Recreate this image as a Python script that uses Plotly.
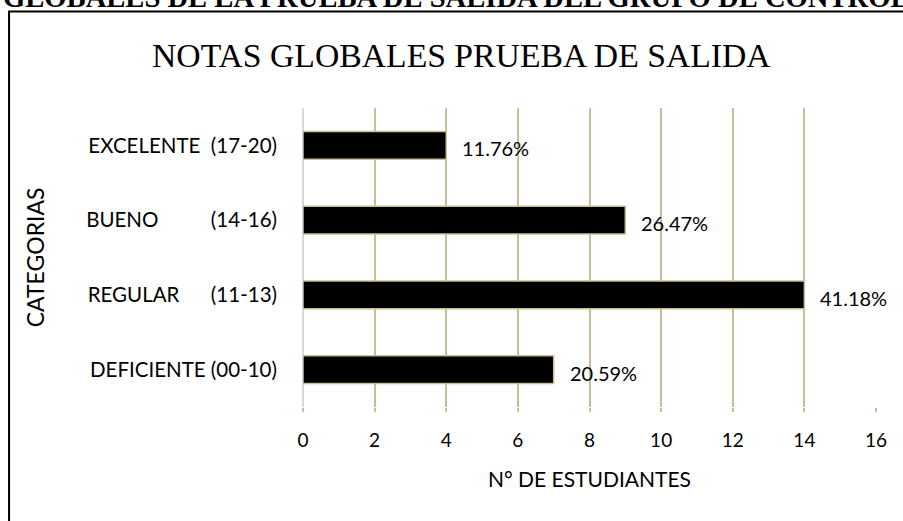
import plotly.graph_objects as go

nb = "\u00a0"
categorias = ["DEFICIENTE (00-10)",
              "REGULAR" + nb * 6 + "(11-13)",
              "BUENO" + nb * 10 + "(14-16)",
              "EXCELENTE" + nb * 2 + "(17-20)"]
estudiantes = [7, 14, 9, 4]
porcentajes = ["20.59%", "41.18%", "26.47%", "11.76%"]

tan = "#C8BE96"
fuente = "Lato"

fig = go.Figure(go.Bar(
    y=categorias,
    x=estudiantes,
    orientation="h",
    marker=dict(color="black", line=dict(color=tan, width=1.5)),
    width=0.37,
    hoverinfo="x+y",
))

for cat, val, pct in zip(categorias, estudiantes, porcentajes):
    fig.add_annotation(x=val, y=cat, text=pct, showarrow=False,
                       xanchor="left", xshift=14, yshift=-3,
                       font=dict(family=fuente, size=20, color="black"))

# titulo del grafico
fig.add_annotation(xref="paper", yref="paper", x=0.276, y=1.177,
                   xanchor="center", yanchor="middle",
                   text="NOTAS GLOBALES PRUEBA DE SALIDA", showarrow=False,
                   font=dict(family="Liberation Serif", size=33.7, color="black"))
# titulo del eje y
fig.add_annotation(xref="paper", yref="paper", x=-0.468, y=0.5,
                   xanchor="center", yanchor="middle",
                   text="CATEGORIAS", textangle=-90, showarrow=False,
                   font=dict(family=fuente, size=23, color="black"))
# encabezado del documento (recortado)
fig.add_annotation(xref="paper", yref="paper", x=-0.527, y=1.368,
                   xanchor="left", yanchor="middle",
                   text="<b>GLOBALES DE LA PRUEBA DE SALIDA DEL GRUPO DE CONTROL</b>",
                   showarrow=False,
                   font=dict(family="Liberation Serif", size=28.6, color="black"))

# recuadro
fig.add_shape(type="rect", xref="paper", yref="paper",
              x0=-0.513, x1=1.06, y0=-0.4, y1=1.323,
              line=dict(color="black", width=2))

fig.update_layout(
    width=903, height=521,
    margin=dict(l=303, r=27, t=108, b=114),
    plot_bgcolor="white", paper_bgcolor="white",
    showlegend=False,
    xaxis=dict(range=[0, 16], dtick=2, showgrid=True, gridcolor=tan, gridwidth=1.5,
               zeroline=True, zerolinecolor="#D9D9D9", zerolinewidth=1.5,
               ticks="outside", ticklen=4, tickcolor=tan, tickwidth=1.5,
               ticklabelstandoff=12,
               tickfont=dict(family=fuente, size=19, color="black"),
               title=dict(text="N° DE ESTUDIANTES", standoff=22,
                          font=dict(family=fuente, size=21, color="black")),
               showline=False, fixedrange=True),
    yaxis=dict(showgrid=False, zeroline=False, showline=False, ticks="",
               ticklabelstandoff=25, fixedrange=True,
               tickfont=dict(family=fuente, size=20.5, color="black")),
)

fig.write_html("out.html", config={"displayModeBar": False},
               post_script="document.body.style.margin='0';")
